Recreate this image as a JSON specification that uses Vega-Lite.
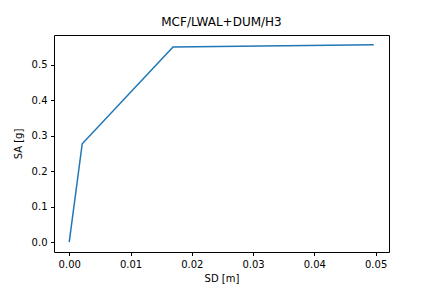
{
  "$schema": "https://vega.github.io/schema/vega-lite/v6.json",
  "width": 335,
  "height": 217,
  "autosize": {"type": "none"},
  "padding": {"left": 54, "top": 35, "right": 43, "bottom": 36},
  "background": "white",
  "title": {"text": "MCF/LWAL+DUM/H3", "font": "DejaVu Sans", "fontSize": 12, "fontWeight": "normal", "color": "black", "offset": 6, "anchor": "middle"},
  "config": {
    "view": {"stroke": "black", "strokeWidth": 1},
    "axis": {
      "grid": false,
      "domain": false,
      "tickColor": "black",
      "tickSize": 3.5,
      "tickWidth": 1,
      "labelFont": "DejaVu Sans",
      "labelFontSize": 10,
      "labelColor": "black",
      "labelPadding": 3.5,
      "titleFont": "DejaVu Sans",
      "titleFontSize": 10,
      "titleFontWeight": "normal",
      "titleColor": "black"
    }
  },
  "data": {
    "values": [
      {"SD": 0.0, "SA": 0.0},
      {"SD": 0.00212, "SA": 0.277},
      {"SD": 0.01694, "SA": 0.5497},
      {"SD": 0.0497, "SA": 0.5555}
    ]
  },
  "mark": {"type": "line", "color": "#1f77b4", "strokeWidth": 1.5},
  "encoding": {
    "x": {
      "field": "SD", "type": "quantitative", "title": "SD [m]",
      "scale": {"domain": [-0.002485, 0.052185], "nice": false, "zero": false},
      "axis": {"values": [0, 0.01, 0.02, 0.03, 0.04, 0.05], "format": ".2f", "titlePadding": 4}
    },
    "y": {
      "field": "SA", "type": "quantitative", "title": "SA [g]",
      "scale": {"domain": [-0.02778, 0.58328], "nice": false, "zero": false},
      "axis": {"values": [0, 0.1, 0.2, 0.3, 0.4, 0.5], "format": ".1f", "titlePadding": 8}
    }
  }
}
